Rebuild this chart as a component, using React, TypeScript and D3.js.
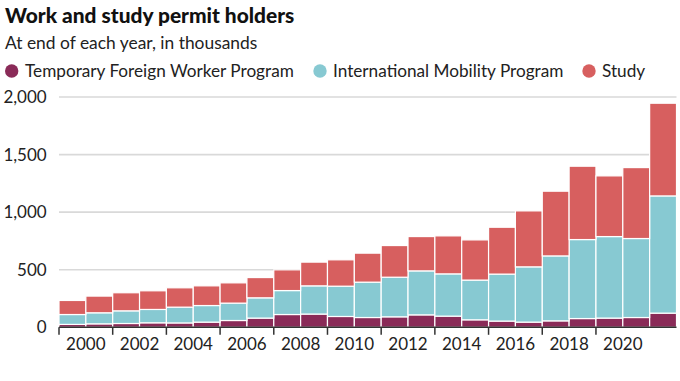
import React from "react";
import * as d3 from "d3";

const years = [2000,2001,2002,2003,2004,2005,2006,2007,2008,2009,2010,2011,2012,2013,2014,2015,2016,2017,2018,2019,2020,2021,2022];
const tfwp = [25,30,33,39,38,45,59,80,111,115,94,85,91,108,97,65,54,45,56,76,80,85,123];
const imp = [86,96,110,116,137,144,151,176,208,245,263,307,344,382,367,345,408,480,564,686,708,686,1018];
const study = [122,145,157,162,168,171,176,176,180,206,229,252,275,298,330,349,407,486,562,637,527,616,805];
const seriesKeys = ["tfwp", "imp", "study"];
const seriesLabels = ["Temporary Foreign Worker Program", "International Mobility Program", "Study"];
const colors = ["#8a2b58", "#87c9d2", "#d75f5f"];
const yTicks = [0, 500, 1000, 1500, 2000];
const xLabelYears = [2000,2002,2004,2006,2008,2010,2012,2014,2016,2018,2020];

const W = 680, H = 381;
const FONT = "Lato, 'Open Sans', sans-serif";

export default function App() {
  const rows = years.map((y, i) => ({ year: y, tfwp: tfwp[i], imp: imp[i], study: study[i] }));
  const stack = d3.stack<any>().keys(seriesKeys)(rows);
  const x = d3.scaleBand<number>().domain(years).range([59, 676.5]).padding(0);
  const y = d3.scaleLinear().domain([0, 2000]).range([327.3, 97]);
  const bw = x.bandwidth();
  const legendX = [[11.7, 25], [320, 333], [589, 602]];

  return (
    <svg width={W} height={H} style={{ position: "absolute", left: 0, top: 0, background: "#fff" }} fontFamily={FONT}>
      <text x={5} y={23.3} fontSize={20.9} fontWeight={900} fill="#111">Work and study permit holders</text>
      <text x={5} y={49.3} fontSize={17.4} fill="#222">At end of each year, in thousands</text>
      {seriesLabels.map((l, i) => (
        <g key={l}>
          <circle cx={legendX[i][0]} cy={71} r={6.7} fill={colors[i]} />
          <text x={legendX[i][1]} y={77.3} fontSize={17.2} fill="#222">{l}</text>
        </g>
      ))}
      {yTicks.filter(t => t > 0).map(t => (
        <line key={t} x1={59} x2={676.5} y1={y(t)} y2={y(t)} stroke="#d9d9d9" strokeWidth={1.6} />
      ))}
      {yTicks.map(t => (
        <text key={t} x={46.7} y={y(t)} dy="0.36em" textAnchor="end" fontSize={17} fill="#222">{d3.format(",")(t)}</text>
      ))}
      {stack.map((s, si) => (
        <g key={seriesKeys[si]} fill={colors[si]}>
          {s.map((d: any) => (
            <rect key={d.data.year} x={x(d.data.year)!} y={y(d[1])} width={bw} height={y(d[0]) - y(d[1])} stroke="#fff" strokeWidth={1.2} />
          ))}
        </g>
      ))}
      <line x1={59} x2={676.5} y1={y(0)} y2={y(0)} stroke="#333" strokeWidth={1.6} />
      {xLabelYears.map(yr => (
        <g key={yr}>
          <line x1={x(yr)!} x2={x(yr)!} y1={y(0)} y2={y(0) + 7.5} stroke="#333" strokeWidth={1.5} />
          <text x={x(yr)! + bw} y={350} textAnchor="middle" fontSize={17} fill="#222">{yr}</text>
        </g>
      ))}
    </svg>
  );
}
